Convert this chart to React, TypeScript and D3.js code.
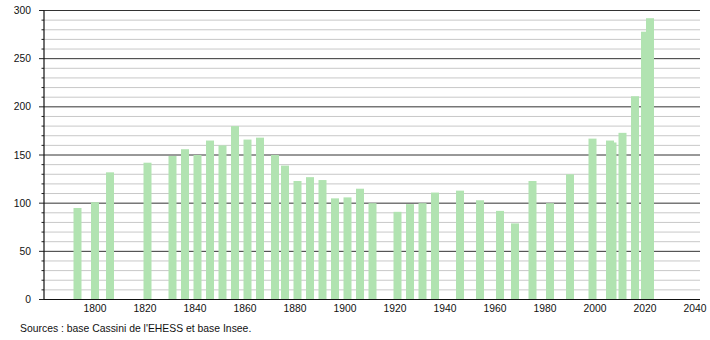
import React from "react";
import * as d3 from "d3";

const years = [1793, 1800, 1806, 1821, 1831, 1836, 1841, 1846, 1851, 1856, 1861, 1866, 1872, 1876, 1881, 1886, 1891, 1896, 1901, 1906, 1911, 1921, 1926, 1931, 1936, 1946, 1954, 1962, 1968, 1975, 1982, 1990, 1999, 2006, 2007, 2011, 2016, 2020, 2022];
const population = [95, 101, 132, 142, 149, 156, 150, 165, 160, 180, 166, 168, 150, 139, 123, 127, 124, 105, 106, 115, 100, 91, 99, 100, 111, 113, 103, 92, 79, 123, 100, 130, 167, 165, 163, 173, 211, 278, 292];
const xTicks = [1800, 1820, 1840, 1860, 1880, 1900, 1920, 1940, 1960, 1980, 2000, 2020, 2040];
const yMajor = [0, 50, 100, 150, 200, 250, 300];
const yMinor = d3.range(0, 301, 10).filter((v) => v % 50 !== 0);
const source = "Sources : base Cassini de l'EHESS et base Insee.";

export default function App() {
  const W = 710, H = 340;
  const x = d3.scaleLinear().domain([1779.6, 2042]).range([44, 700]);
  const y = d3.scaleLinear().domain([0, 300]).range([299.5, 10.5]);
  const bw = 8;
  const font = "'Liberation Sans', Arial, sans-serif";
  return (
    <svg width={W} height={H} style={{ position: "absolute", left: 0, top: 0, background: "#fff" }}>
      {yMinor.map((v) => (
        <g key={"mi" + v}>
          <line x1={44} x2={700} y1={y(v)} y2={y(v)} stroke="#c8c8c8" strokeWidth={1} />
          <line x1={41.5} x2={44} y1={y(v)} y2={y(v)} stroke="#222" strokeWidth={1} />
        </g>
      ))}
      {yMajor.map((v) => (
        <g key={"ma" + v}>
          <line x1={44} x2={700} y1={y(v)} y2={y(v)} stroke="#333" strokeWidth={1} />
          <line x1={39} x2={44} y1={y(v)} y2={y(v)} stroke="#222" strokeWidth={1} />
          <text x={31} y={y(v)} dy="0.35em" textAnchor="end" fontFamily={font} fontSize={10.3} fill="#111">{v}</text>
        </g>
      ))}
      {years.map((yr, i) => (
        <rect key={yr} x={x(yr) - bw / 2} y={y(population[i])} width={bw} height={y(0) - y(population[i])} fill="#b1e3b1" />
      ))}
      <line x1={44} x2={700} y1={y(0)} y2={y(0)} stroke="#111" strokeWidth={1.2} />
      <line x1={44} x2={44} y1={y(300)} y2={y(0)} stroke="#111" strokeWidth={1.2} />
      {xTicks.map((t) => (
        <text key={t} x={x(t)} y={312} textAnchor="middle" fontFamily={font} fontSize={10.3} fill="#111">{t}</text>
      ))}
      <text x={20} y={332} fontFamily={font} fontSize={10.4} fill="#111">{source}</text>
    </svg>
  );
}
